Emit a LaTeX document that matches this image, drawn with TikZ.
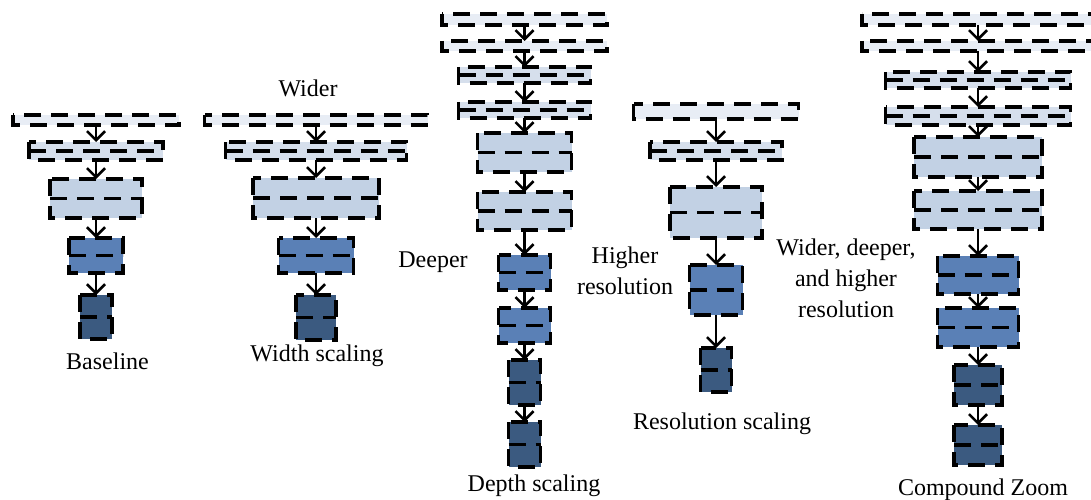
\documentclass[tikz,border=0pt]{standalone}
\usepackage{fontspec}
\setmainfont{Liberation Serif}
\usetikzlibrary{arrows.meta}
\definecolor{cA}{HTML}{E8EDF5}
\definecolor{cB}{HTML}{D6DFEC}
\definecolor{cC}{HTML}{C2D1E4}
\definecolor{cD}{HTML}{5A80B6}
\definecolor{cE}{HTML}{3B5A80}
\tikzset{
  layerbox/.style={draw=none, inner sep=0pt, outer sep=0pt, rectangle},
  dashbox/.style={draw=black, line width=3.2pt, dash pattern=on 17pt off 10pt},
  arr/.style={draw=black, line width=2.6pt, -{Straight Barb[length=9pt,width=18pt]}},
  lbl/.style={font=\fontsize{24}{31}\selectfont, inner sep=0pt, align=center}
}
% name, cx, ytop, height, width, colour
\newcommand{\mklayerone}[6]{%
  \node[layerbox, fill=#6, minimum width=#5pt, minimum height=#4pt] (#1) at ({#2},{#3+#4/2}) {};
  \draw[dashbox] (#1.north west) rectangle (#1.south east);
}
\newcommand{\mklayertwo}[6]{%
  \node[layerbox, fill=#6, minimum width=#5pt, minimum height=#4pt] (#1) at ({#2},{#3+#4/2}) {};
  \draw[dashbox] (#1.north west) rectangle (#1.south east);
  \draw[dashbox] (#1.west) -- (#1.east);
}
\begin{document}
\begin{tikzpicture}[x=1pt,y=-1pt]
\useasboundingbox (0,0) rectangle (1091,500);
% Baseline
\mklayerone{B1}{96}{115}{10}{166}{cA}
\mklayertwo{B2}{96}{142}{18}{134}{cB}
\mklayertwo{B3}{96}{179}{39}{92}{cC}
\mklayertwo{B4}{96}{238}{35}{54}{cD}
\mklayertwo{B5}{96}{295}{44}{32}{cE}
\foreach \a/\b in {B1/B2,B2/B3,B3/B4,B4/B5} \draw[arr] (\a.south) -- (\b.north);
% Width scaling
\mklayerone{W1}{316}{115}{10}{223}{cA}
\mklayertwo{W2}{316}{142}{18}{181}{cB}
\mklayertwo{W3}{316}{178}{40}{126}{cC}
\mklayertwo{W4}{316}{238}{35}{75}{cD}
\mklayertwo{W5}{316}{295}{45}{40}{cE}
\foreach \a/\b in {W1/W2,W2/W3,W3/W4,W4/W5} \draw[arr] (\a.south) -- (\b.north);
% Depth scaling
\mklayerone{D1}{524.5}{14}{11}{165}{cA}
\mklayerone{D2}{524.5}{41}{10}{165}{cA}
\mklayertwo{D3}{524.5}{67}{16}{132}{cB}
\mklayertwo{D4}{524.5}{102}{16}{132}{cB}
\mklayertwo{D5}{524.5}{133}{39}{94}{cC}
\mklayertwo{D6}{524.5}{192}{38}{94}{cC}
\mklayertwo{D7}{524.5}{255}{35}{52}{cD}
\mklayertwo{D8}{524.5}{308}{35}{52}{cD}
\mklayertwo{D9}{524.5}{360}{45}{32}{cE}
\mklayertwo{D10}{524.5}{422}{45}{32}{cE}
\foreach \a/\b in {D1/D2,D2/D3,D3/D4,D4/D5,D5/D6,D6/D7,D7/D8,D8/D9,D9/D10} \draw[arr] (\a.south) -- (\b.north);
% Resolution scaling
\mklayerone{R1}{716}{104}{15}{165}{cA}
\mklayertwo{R2}{716}{142}{18}{132}{cB}
\mklayertwo{R3}{716}{187}{51}{92}{cC}
\mklayertwo{R4}{716}{265}{50}{53}{cD}
\mklayertwo{R5}{716}{348}{44}{31}{cE}
\foreach \a/\b in {R1/R2,R2/R3,R3/R4,R4/R5} \draw[arr] (\a.south) -- (\b.north);
% Compound
\mklayerone{C1}{978}{14}{11}{232}{cA}
\mklayerone{C2}{978}{41}{10}{232}{cA}
\mklayertwo{C3}{978}{72}{16}{185}{cB}
\mklayertwo{C4}{978}{107}{18}{185}{cB}
\mklayertwo{C5}{978}{137}{40}{128}{cC}
\mklayertwo{C6}{978}{191}{38}{128}{cC}
\mklayertwo{C7}{978}{256}{38}{81}{cD}
\mklayertwo{C8}{978}{308}{39}{81}{cD}
\mklayertwo{C9}{978}{365}{40}{48}{cE}
\mklayertwo{C10}{978}{425}{40}{48}{cE}
\foreach \a/\b in {C1/C2,C2/C3,C3/C4,C4/C5,C5/C6,C6/C7,C7/C8,C8/C9,C9/C10} \draw[arr] (\a.south) -- (\b.north);
% Labels
\node[lbl, anchor=base] (tWider) at (308,97) {Wider};
\node[lbl, anchor=base] (tBase) at (107.5,369) {Baseline};
\node[lbl, anchor=base] (tWidth) at (317,361) {Width scaling};
\node[lbl, anchor=base] (tDeeper) at (433,267) {Deeper};
\node[lbl, anchor=base] (tDepth) at (534,491) {Depth scaling};
\node[lbl] (tHigher) at (625,271) {Higher\\resolution};
\node[lbl] (tAll) at (846,278) {Wider, deeper,\\and higher\\resolution};
\node[lbl, anchor=base] (tRes) at (722,429) {Resolution scaling};
\node[lbl, anchor=base] (tComp) at (983,495) {Compound Zoom};
\end{tikzpicture}
\end{document}
